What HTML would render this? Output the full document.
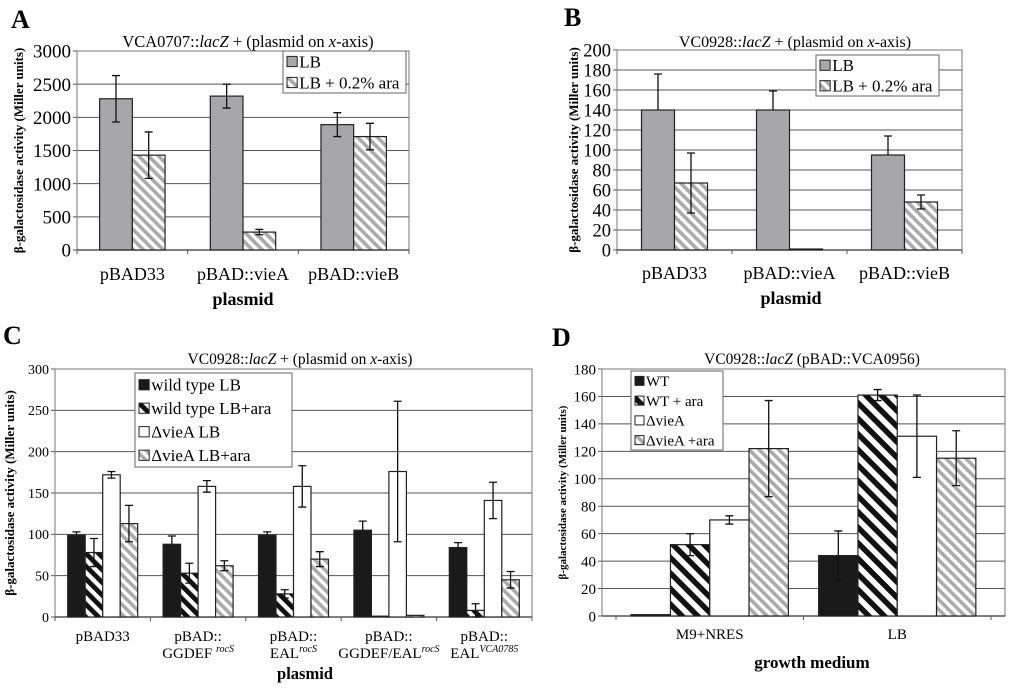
<!DOCTYPE html>
<html><head><meta charset="utf-8">
<style>
body{margin:0;background:#fff;}
svg{display:block;}
svg text{font-family:"Liberation Serif","Times New Roman",serif;}
</style></head>
<body>
<svg id="fig" width="1013" height="691" viewBox="0 0 1013 691">
<defs>
<pattern id="greyHatch" patternUnits="userSpaceOnUse" width="7" height="7" patternTransform="rotate(-45)">
<rect width="7" height="7" fill="#fff"/><rect width="3.6" height="7" fill="#aaa"/></pattern>
<pattern id="bwHatch" patternUnits="userSpaceOnUse" width="9" height="9" patternTransform="rotate(-45)">
<rect width="9" height="9" fill="#fff"/><rect width="4.8" height="9" fill="#111"/></pattern>
<pattern id="bwHatchD" patternUnits="userSpaceOnUse" width="11" height="11" patternTransform="rotate(-45)">
<rect width="11" height="11" fill="#fff"/><rect width="5.5" height="11" fill="#111"/></pattern>
</defs>
<g id="panels"></g>
</svg>
<script>
// Panel A data
const aCategories = ["pBAD33","pBAD::vieA","pBAD::vieB"];
const aLB = [2280, 2320, 1890];
const aLBErr = [350, 180, 180];
const aAra = [1430, 270, 1710];
const aAraErr = [350, 40, 200];
const aTicks = [0,500,1000,1500,2000,2500,3000];
// Panel B data
const bCategories = ["pBAD33","pBAD::vieA","pBAD::vieB"];
const bLB = [140, 140, 95];
const bLBErr = [36, 19, 19];
const bAra = [67, 1, 48];
const bAraErr = [30, 0, 7];
const bTicks = [0,20,40,60,80,100,120,140,160,180,200];
// Panel C data
const cCategories = [["pBAD33",""],["pBAD::","GGDEF ","rocS"],["pBAD::","EAL","rocS"],["pBAD::","GGDEF/EAL","rocS"],["pBAD::","EAL","VCA0785"]];
const cWT = [99, 88, 99, 105, 84];
const cWTErr = [4, 10, 4, 11, 6];
const cWTAra = [78, 53, 28, 1, 8];
const cWTAraErr = [17, 12, 5, 0, 8];
const cDel = [172, 158, 158, 176, 141];
const cDelErr = [4, 7, 25, 85, 22];
const cDelAra = [113, 62, 70, 2, 45];
const cDelAraErr = [22, 6, 9, 0, 10];
const cTicks = [0,50,100,150,200,250,300];
// Panel D data
const dCategories = ["M9+NRES","LB"];
const dWT = [1, 44];
const dWTErr = [0, 18];
const dWTAra = [52, 161];
const dWTAraErr = [8, 4];
const dDel = [70, 131];
const dDelErr = [3, 30];
const dDelAra = [122, 115];
const dDelAraErr = [35, 20];
const dTicks = [0,20,40,60,80,100,120,140,160,180];

const NS="http://www.w3.org/2000/svg";
const root=document.getElementById('panels');
function mk(tag,attrs,parent,text){const e=document.createElementNS(NS,tag);for(const k in attrs)e.setAttribute(k,attrs[k]);if(text!==undefined)e.textContent=text;(parent||root).appendChild(e);return e;}

function panel(cfg){
  const g=mk('g',{});
  
  
  const {x0,x1,y0,y1,max}=cfg;
  const ys=v=>y0-(v/max)*(y0-y1);
  const n=cfg.categories.length;
  const bw=cfg.bandW||(x1-x0)/n;
  const bs=cfg.bandStart||x0;
  const xc=i=>bs+bw*(i+0.5);
  cfg.ticks.forEach(t=>{
    const l=mk('line',{x1:x0,x2:x1,y1:ys(t),y2:ys(t),stroke:'#555','stroke-width':1},g);
    
    
    mk('line',{x1:x0-4,x2:x0,y1:ys(t),y2:ys(t),stroke:'#555'},g);
    const tx=mk('text',{x:x0-6,y:ys(t)+cfg.tickFs*0.35,'text-anchor':'end','font-size':cfg.tickFs},g,String(t));
    
    
  });
  const fr=mk('rect',{x:x0,y:y1,width:x1-x0,height:y0-y1,fill:'none',stroke:'#777'},g);
  
  
  mk('line',{x1:x0,x2:x1,y1:y0,y2:y0,stroke:'#333','stroke-width':1.3},g);
  for(let i=0;i<=n;i++) mk('line',{x1:bs+bw*i,x2:bs+bw*i,y1:y0,y2:y0+4,stroke:'#555'},g);
  const ns=cfg.series.length;
  cfg.series.forEach((s,si)=>{
    s.values.forEach((v,i)=>{
      const bx=xc(i)-ns*cfg.barW/2+si*cfg.barW;
      const r=mk('rect',{x:bx,y:ys(v),width:cfg.barW,height:Math.max(0.5,y0-ys(v)),fill:s.fill,stroke:'#222','stroke-width':1.2},g);
      
      
    });
  });
  cfg.series.forEach((s,si)=>{
    s.values.forEach((v,i)=>{
      const e=s.err[i]; if(!e) return;
      const cx=xc(i)-ns*cfg.barW/2+(si+0.5)*cfg.barW;
      const lo=s.upperOnly?v:v-e;
      const eb=mk('path',{d:`M${cx},${ys(v+e)}V${ys(lo)}M${cx-4},${ys(v+e)}h8`+(s.upperOnly?'':`M${cx-4},${ys(lo)}h8`),stroke:'#111','stroke-width':1.3,fill:'none'},g);
      
      
    });
  });
  const L=cfg.legend;
  const lg=mk('g',{},g);
  
  
  mk('rect',{x:L.x,y:L.y,width:L.w,height:L.h,fill:'#fff',stroke:'#666'},lg);
  const rowH=L.h/ns;
  cfg.series.forEach((s,si)=>{
    const cy=L.y+rowH*(si+0.5);
    const sw=L.fs*0.6;
    mk('rect',{x:L.x+4,y:cy-sw/2,width:sw,height:sw,fill:s.fill,stroke:'#222'},lg);
    const t=mk('text',{x:L.x+6+sw,y:cy+L.fs*0.35,'font-size':L.fs},lg,s.label);
    
    
  });
  cfg.categories.forEach((c,i)=>{
    if(Array.isArray(c)){
      const t1=mk('text',{x:xc(i),y:cfg.xLabY,'text-anchor':'middle','font-size':cfg.xFs},g,c[0]);
      
      
      if(c[1]){
        const t2=mk('text',{x:xc(i),y:cfg.xLabY+17,'text-anchor':'middle','font-size':cfg.xFs},g);
        
        
        mk('tspan',{},t2,c[1]);
        if(c[2]) mk('tspan',{'font-size':10,'font-style':'italic',dy:-6},t2,c[2]);
      }
    } else {
      const t=mk('text',{x:xc(i),y:cfg.xLabY,'text-anchor':'middle','font-size':cfg.xFs},g,c);
      
      
    }
  });
  const xt=mk('text',{x:cfg.xTitle[1],y:cfg.xTitle[2],'text-anchor':'middle','font-size':cfg.xTitle[3],'font-weight':'bold'},g,cfg.xTitle[0]);
  
  
  const yt=mk('text',{x:0,y:0,'text-anchor':'middle','font-size':cfg.yFs,'font-weight':'bold',transform:`translate(${cfg.yLabX},${(y0+y1)/2}) rotate(-90)`},g,'β-galactosidase activity (Miller units)');
  
  
  const tt=mk('text',{x:cfg.title.x,y:cfg.title.y,'text-anchor':'middle','font-size':cfg.title.fs},g);
  
  
  cfg.title.parts.forEach(p=>mk('tspan',p[1]?{'font-style':'italic'}:{},tt,p[0]));
  const pl=mk('text',{x:cfg.letter[1],y:cfg.letter[2],'font-size':26,'font-weight':'bold'},g,cfg.letter[0]);
  
  
}

panel({name:'panel-a',x0:77,x1:409,y0:250,y1:51,max:3000,ticks:aTicks,tickFs:19,barW:32.7,
  categories:aCategories,
  series:[{key:'lb',label:'LB',values:aLB,err:aLBErr,fill:'#a7a7a9'},
          {key:'ara',label:'LB + 0.2% ara',values:aAra,err:aAraErr,fill:'url(#greyHatch)'}],
  legend:{x:283,y:51,w:123,h:42,fs:17},xLabY:280,xFs:18,xTitle:['plasmid',243,305,18],
  yLabX:23,yFs:13,title:{x:248,y:47,fs:16.5,parts:[['VCA0707::'],['lacZ',1],[' + (plasmid on '],['x',1],['-axis)']]},letter:['A',11,28]});

panel({name:'panel-b',x0:617,x1:962,y0:250,y1:50,max:200,ticks:bTicks,tickFs:18.5,barW:33,
  categories:bCategories,
  series:[{key:'lb',label:'LB',values:bLB,err:bLBErr,fill:'#a7a7a9',upperOnly:true},
          {key:'ara',label:'LB + 0.2% ara',values:bAra,err:bAraErr,fill:'url(#greyHatch)'}],
  legend:{x:816,y:55,w:123,h:41,fs:17},xLabY:279,xFs:18,xTitle:['plasmid',791,304,18],
  yLabX:578,yFs:13,title:{x:795,y:47,fs:16,parts:[['VC0928::'],['lacZ',1],[' + (plasmid on '],['x',1],['-axis)']]},letter:['B',564,26]});

panel({name:'panel-c',x0:55,x1:532,y0:617,y1:369,max:300,ticks:cTicks,tickFs:14,barW:17.5,
  categories:cCategories,
  series:[{key:'wt',label:'wild type LB',values:cWT,err:cWTErr,fill:'#1a1a1a',upperOnly:true},
          {key:'wt-ara',label:'wild type LB+ara',values:cWTAra,err:cWTAraErr,fill:'url(#bwHatch)'},
          {key:'del',label:'ΔvieA LB',values:cDel,err:cDelErr,fill:'#fff'},
          {key:'del-ara',label:'ΔvieA LB+ara',values:cDelAra,err:cDelAraErr,fill:'url(#greyHatch)'}],
  legend:{x:135,y:373,w:157,h:94,fs:17},xLabY:641,xFs:15,xTitle:['plasmid',305,679,16.5],
  yLabX:14,yFs:13,title:{x:300,y:364,fs:15.5,parts:[['VC0928::'],['lacZ',1],[' + (plasmid on '],['x',1],['-axis)']]},letter:['C',3,344]});

panel({name:'panel-d',x0:602,x1:1005,y0:616,y1:369,max:180,ticks:dTicks,tickFs:15,barW:39.3,bandStart:616,bandW:187.5,
  categories:dCategories,
  series:[{key:'wt',label:'WT',values:dWT,err:dWTErr,fill:'#1a1a1a'},
          {key:'wt-ara',label:'WT + ara',values:dWTAra,err:dWTAraErr,fill:'url(#bwHatchD)'},
          {key:'del',label:'ΔvieA',values:dDel,err:dDelErr,fill:'#fff'},
          {key:'del-ara',label:'ΔvieA +ara',values:dDelAra,err:dDelAraErr,fill:'url(#greyHatch)'}],
  legend:{x:631,y:371,w:92,h:79,fs:15},xLabY:639,xFs:15,xTitle:['growth medium',812,668,17],
  yLabX:566,yFs:11,title:{x:812,y:364,fs:15.5,parts:[['VC0928::'],['lacZ',1],[' (pBAD::VCA0956)']]},letter:['D',552,346]});
</script>
</body></html>
